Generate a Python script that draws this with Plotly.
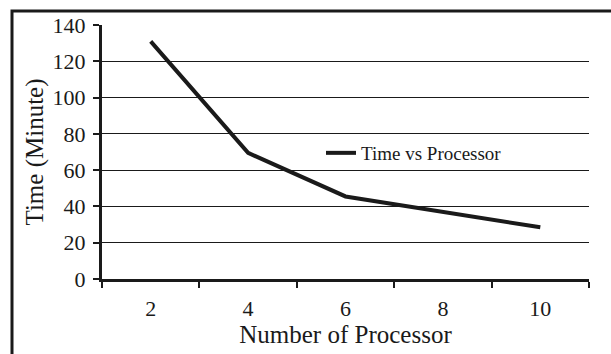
import plotly.graph_objects as go

processors = ["2", "4", "6", "8", "10"]
time_minutes = [131, 69.5, 45.5, 37, 28.5]
series_name = "Time vs Processor"

L, R, T, B = 102, 22, 25, 75
W, H = 611, 354
pw, ph = W - L - R, H - T - B

def px_x(p):
    return (p - L) / pw

def px_y(p):
    return (H - B - p) / ph

fig = go.Figure()
fig.add_trace(go.Scatter(x=processors, y=time_minutes, mode="lines",
                         name=series_name, line=dict(color="#1a1a1a", width=4)))

font = "Liberation Serif, Times New Roman, serif"
fig.update_layout(
    width=W, height=H,
    margin=dict(l=L, r=R, t=T, b=B),
    paper_bgcolor="white", plot_bgcolor="white",
    font=dict(family=font, color="#1a1a1a", size=22),
    showlegend=True,
    legend=dict(x=px_x(321), y=px_y(153), xanchor="left", yanchor="middle",
                bgcolor="rgba(0,0,0,0)", font=dict(size=19, family=font)),
    xaxis=dict(type="category", range=[-0.5, 4.5], tickson="boundaries",
               ticks="outside", ticklen=6, tickwidth=2, tickcolor="#1a1a1a",
               showline=True, linewidth=3, linecolor="#1a1a1a", showgrid=False,
               ticklabelstandoff=8,
               title=dict(text="Number of Processor", font=dict(size=25), standoff=4),
               tickfont=dict(size=22)),
    yaxis=dict(range=[0, 140], dtick=20, ticks="outside", ticklen=6, tickwidth=2,
               tickcolor="#1a1a1a", showline=True, linewidth=3, linecolor="#1a1a1a",
               showgrid=True, gridcolor="#1a1a1a", gridwidth=1, zeroline=False,
               ticklabelstandoff=3,
               title=dict(text="Time (Minute)", font=dict(size=25), standoff=2),
               tickfont=dict(size=22)),
    shapes=[dict(type="rect", xref="paper", yref="paper",
                 x0=px_x(12), x1=px_x(W + 20), y0=px_y(H + 20), y1=px_y(11),
                 line=dict(color="#1a1a1a", width=3), layer="below")],
)
fig.write_html("out.html")
